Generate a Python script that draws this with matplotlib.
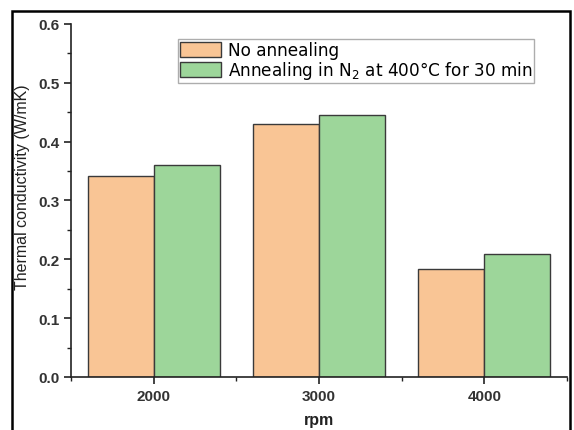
import numpy as np
import matplotlib
matplotlib.use("Agg")
from matplotlib import pyplot as plt
from matplotlib.patches import Rectangle
from matplotlib.ticker import MultipleLocator, FormatStrFormatter

rpm = [2000, 3000, 4000]
no_anneal = [0.341, 0.430, 0.183]
anneal_n2 = [0.360, 0.445, 0.209]
labels = ["No annealing", "Annealing in N$_2$ at 400\u00b0C for 30 min"]

plt.rcParams['font.family'] = ['Liberation Sans', 'DejaVu Sans']
plt.rcParams['mathtext.fontset'] = 'custom'
plt.rcParams['mathtext.rm'] = 'DejaVu Sans'

fig = plt.figure(figsize=(5.74, 4.31), dpi=100)
ax = fig.add_axes([0.1237, 0.123, 0.864, 0.819])

w = 400
x = np.array(rpm)
ax.bar(x - w / 2, no_anneal, width=w, color="#F9C595", edgecolor="#3a3a3a",
       linewidth=1.0, label=labels[0])
ax.bar(x + w / 2, anneal_n2, width=w, color="#9DD69A", edgecolor="#3a3a3a",
       linewidth=1.0, label=labels[1])

ax.set_xlim(1500, 4500)
ax.set_ylim(0, 0.6)
ax.set_xticks(rpm)
ax.xaxis.set_minor_locator(MultipleLocator(500))
ax.yaxis.set_major_locator(MultipleLocator(0.1))
ax.yaxis.set_minor_locator(MultipleLocator(0.05))
ax.yaxis.set_major_formatter(FormatStrFormatter("%.1f"))
ax.tick_params(which="major", direction="out", length=5, width=1.2, labelsize=11,
               colors="#222222")
ax.tick_params(which="minor", direction="out", length=3, width=1.0, colors="#222222")
for t in ax.get_xticklabels() + ax.get_yticklabels():
    t.set_fontweight("bold")
    t.set_color("#333333")

for s in ["top", "right"]:
    ax.spines[s].set_visible(False)
for s in ["left", "bottom"]:
    ax.spines[s].set_linewidth(1.2)
    ax.spines[s].set_color("#222222")

ax.set_ylabel("Thermal conductivity (W/mK)", fontsize=11.5, color="#222222")
ax.yaxis.set_label_coords(-0.083, 0.54)
ax.set_xlabel("rpm", fontsize=11.5, color="#222222", fontweight="bold")
ax.xaxis.set_label_coords(0.5, -0.1)

leg = ax.legend(loc="upper left", bbox_to_anchor=(0.216, 0.957),
                prop={"family": "DejaVu Sans", "size": 12.2},
                frameon=True, fancybox=False, edgecolor="#999999",
                handlelength=2.4, handleheight=1.0, handletextpad=0.4,
                borderpad=0.12, labelspacing=0.0, borderaxespad=0)
leg.get_frame().set_linewidth(1.0)

fig.patches.append(Rectangle((0.021, -0.02), 0.972, 0.992, transform=fig.transFigure,
                             fill=False, edgecolor="black", linewidth=1.8))

fig.savefig("out.png", dpi=100)
